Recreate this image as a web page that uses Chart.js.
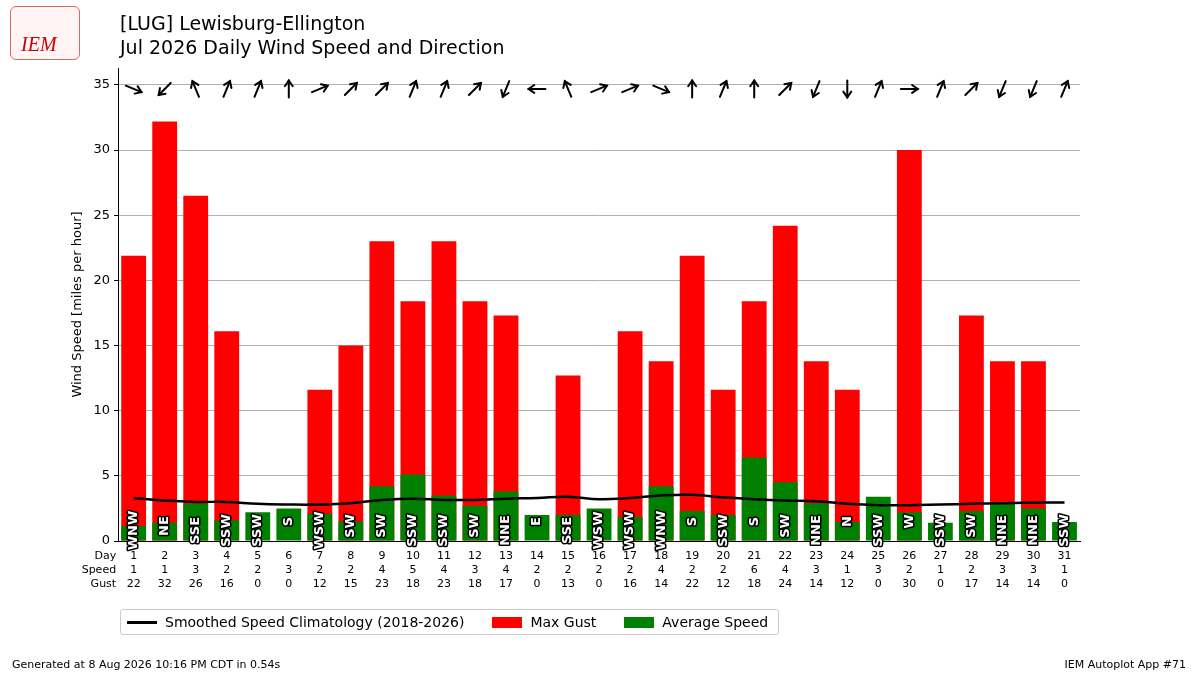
<!DOCTYPE html>
<html><head><meta charset="utf-8">
<script src="https://cdn.jsdelivr.net/npm/chart.js@4"></script>
<style>
body{margin:0;width:1200px;height:675px;background:#fff;font-family:"DejaVu Sans",sans-serif;position:relative;overflow:hidden}
#wrap{position:absolute;left:0;top:0;width:1200px;height:675px}
.t{position:absolute;color:#000}
#legend{position:absolute;left:120px;top:609px;width:659px;height:26px;border:1px solid #ccc;border-radius:3px;font-size:14px;display:flex;align-items:center;padding-left:4px;box-sizing:border-box}
#legend span.k{display:inline-block;margin-right:8px}
</style></head><body>
<div id="wrap"><canvas id="c" width="1200" height="675"></canvas></div>
<div class="t" style="left:10px;top:6px;width:68px;height:52px;border:1px solid #d66;border-radius:6px;background:#fff5f5"><div style="position:absolute;left:10px;top:26px;color:#c00;font-family:'Liberation Serif';font-style:italic;font-size:20px">IEM</div></div>
<div class="t" style="left:120px;top:12px;font-size:19px">[LUG] Lewisburg-Ellington</div>
<div class="t" style="left:120px;top:36px;font-size:19px">Jul 2026 Daily Wind Speed and Direction</div>
<div id="legend">
<span class="k" style="width:30px;height:3px;background:#000;margin-left:2px"></span><span style="margin-right:28px">Smoothed Speed Climatology (2018-2026)</span>
<span class="k" style="width:30px;height:11px;background:#f00"></span><span style="margin-right:28px">Max Gust</span>
<span class="k" style="width:30px;height:11px;background:#008000"></span><span>Average Speed</span>
</div>
<div class="t" style="left:12px;top:658px;font-size:11px">Generated at 8 Aug 2026 10:16 PM CDT in 0.54s</div>
<div class="t" style="right:14px;top:658px;font-size:11px">IEM Autoplot App #71</div>
<script>
const days=[1,2,3,4,5,6,7,8,9,10,11,12,13,14,15,16,17,18,19,20,21,22,23,24,25,26,27,28,29,30,31];
const gust=[21.9,32.2,26.5,16.1,0,0,11.6,15,23,18.4,23,18.4,17.3,0,12.7,0,16.1,13.8,21.9,11.6,18.4,24.2,13.8,11.6,0,30,0,17.3,13.8,13.8,0];
const avgSpeed=[1.15,1.4,2.85,1.6,2.2,2.5,2.1,1.5,4.2,5.1,3.5,2.7,3.8,2.0,2.0,2.5,1.85,4.2,2.3,2.0,6.4,4.5,2.9,1.45,3.4,2.2,1.4,2.3,2.9,2.5,1.45];
const clim=[3.3,3.1,3.0,3.0,2.85,2.8,2.8,2.9,3.15,3.25,3.15,3.15,3.25,3.3,3.4,3.2,3.3,3.5,3.55,3.35,3.2,3.1,3.05,2.85,2.75,2.75,2.8,2.85,2.9,2.95,2.95];
const dirs=["WNW","NE","SSE","SSW","SSW","S","WSW","SW","SW","SSW","SSW","SW","NNE","E","SSE","WSW","WSW","WNW","S","SSW","S","SW","NNE","N","SSW","W","SSW","SW","NNE","NNE","SSW"];
const speedLbl=[1,1,3,2,2,3,2,2,4,5,4,3,4,2,2,2,2,4,2,2,6,4,3,1,3,2,1,2,3,3,1];
const gustLbl=[22,32,26,16,0,0,12,15,23,18,23,18,17,0,13,0,16,14,22,12,18,24,14,12,0,30,0,17,14,14,0];
const compass=["N","NNE","NE","ENE","E","ESE","SE","SSE","S","SSW","SW","WSW","W","WNW","NW","NNW"];

const extra={id:'extra',afterDatasetsDraw(ch){
  const c=ch.ctx,x=ch.scales.x,y=ch.scales.y;
  c.save();
  c.font='bold 13px "DejaVu Sans"';c.textAlign='center';c.textBaseline='middle';
  dirs.forEach((d,i)=>{const px=x.getPixelForValue(i);c.save();c.translate(px,y.getPixelForValue(0)-14);
    c.rotate(-Math.PI/2);c.lineWidth=3;c.strokeStyle='#000';c.lineJoin='round';
    const off=d.length*4.5-10;c.translate(-off,0);
    c.strokeText(d,0,0);c.fillStyle='#fff';c.fillText(d,0,0);c.restore();});
  dirs.forEach((d,i)=>{const px=x.getPixelForValue(i),py=y.getPixelForValue(35)+4;
    const deg=compass.indexOf(d)*22.5;const a=(deg+180)*Math.PI/180;
    const dx=Math.sin(a)*8.5,dy=-Math.cos(a)*8.5;
    c.strokeStyle='#000';c.lineWidth=2;c.lineCap='round';c.beginPath();c.moveTo(px-dx,py-dy);c.lineTo(px+dx,py+dy);c.stroke();
    const ang=Math.atan2(dy,dx);c.beginPath();
    c.moveTo(px+dx-7*Math.cos(ang-0.6),py+dy-7*Math.sin(ang-0.6));c.lineTo(px+dx,py+dy);
    c.lineTo(px+dx-7*Math.cos(ang+0.6),py+dy-7*Math.sin(ang+0.6));c.stroke();});
  c.font='11px "DejaVu Sans"';c.fillStyle='#000';c.textBaseline='middle';
  const b=y.getPixelForValue(0);
  days.forEach((d,i)=>{const px=x.getPixelForValue(i);c.textAlign='center';
    c.fillText(d,px,b+15);c.fillText(speedLbl[i],px,b+29);c.fillText(gustLbl[i],px,b+43);});
  c.textAlign='right';c.fillText('Day',x.left-2,b+15);c.fillText('Speed',x.left-2,b+29);c.fillText('Gust',x.left-2,b+43);
  c.restore();
}};

new Chart(document.getElementById('c'),{
 data:{labels:days.map(String),datasets:[
  {type:'line',label:'Smoothed Speed Climatology (2018-2026)',data:clim,borderColor:'#000',borderWidth:2.5,pointRadius:0,tension:0.4,order:0},
  {type:'bar',label:'Max Gust',data:gust,backgroundColor:'#ff0000',grouped:false,order:2,categoryPercentage:0.8,barPercentage:1},
  {type:'bar',label:'Average Speed',data:avgSpeed,backgroundColor:'#008000',grouped:false,order:1,categoryPercentage:0.8,barPercentage:1}
 ]},
 options:{responsive:false,animation:false,
  layout:{padding:{left:66,right:120,top:68,bottom:126}},
  plugins:{legend:{display:false},tooltip:{enabled:false}},
  scales:{
   x:{offset:true,grid:{display:false},ticks:{display:false},border:{color:'#000'}},
   y:{min:0,max:36.3,afterBuildTicks(s){s.ticks=[0,5,10,15,20,25,30,35].map(v=>({value:v}));},
      grid:{color:'#b0b0b0',drawTicks:true,tickColor:'#000',tickLength:4},border:{color:'#000'},
      ticks:{color:'#000',font:{size:13,family:'DejaVu Sans'},padding:4},
      title:{display:true,text:'Wind Speed [miles per hour]',color:'#000',font:{size:13,family:'DejaVu Sans'}}}
  }},
 plugins:[extra]
});
</script></body></html>
